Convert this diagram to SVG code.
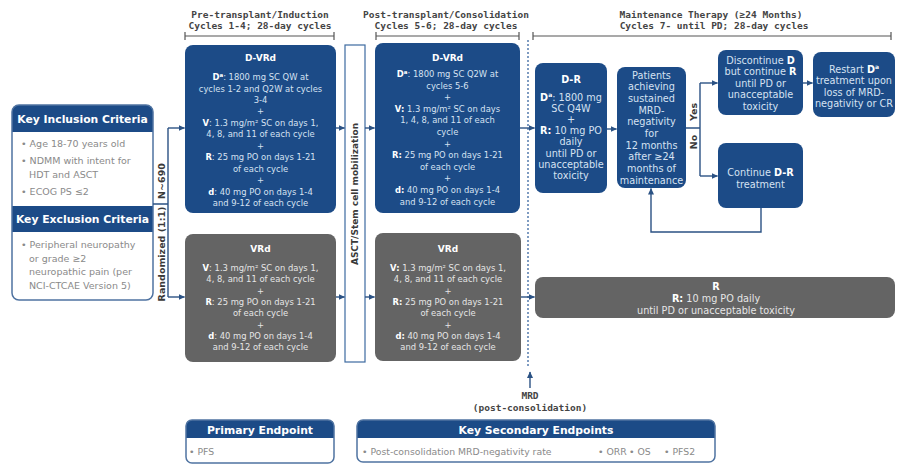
<svg xmlns="http://www.w3.org/2000/svg" width="899" height="465" viewBox="0 0 899 465">
<defs>
<marker id="ah" markerUnits="userSpaceOnUse" markerWidth="7" markerHeight="7" refX="6" refY="3.5" orient="auto">
<path d="M0,0.5 L6.5,3.5 L0,6.5 z" fill="#2b5284"/>
</marker>
<style>
.blue{fill:#1c4b87}
.gray{fill:#646464}
.ttl{font-family:"DejaVu Sans Mono",monospace;font-weight:bold;font-size:9.5px;fill:#444;text-anchor:middle}
.br{stroke:#555;stroke-width:1.2;fill:none}
.bt{font-family:"DejaVu Sans",sans-serif;font-size:8.4px;fill:#d6e2f2;text-anchor:middle}
.gt{font-family:"DejaVu Sans",sans-serif;font-size:8.4px;fill:#e6e6e6;text-anchor:middle}
.mt{font-family:"DejaVu Sans",sans-serif;font-size:9.7px;fill:#d6e2f2;text-anchor:middle}
.mg{font-family:"DejaVu Sans",sans-serif;font-size:9.7px;fill:#e6e6e6;text-anchor:middle}
.hd{font-family:"DejaVu Sans",sans-serif;font-size:9px;font-weight:bold;fill:#fff}
.b{font-weight:bold;fill:#fff}
.hdr{font-family:"DejaVu Sans",sans-serif;font-size:10.8px;font-weight:bold;fill:#fff;text-anchor:middle}
.bul{font-family:"DejaVu Sans",sans-serif;font-size:9.5px;fill:#8a8a8a}
.ebul{font-family:"DejaVu Sans",sans-serif;font-size:9.3px;fill:#8a8a8a}
.frame{fill:none;stroke:#4f73a1;stroke-width:1.5}
.lab{font-family:"DejaVu Sans",sans-serif;font-size:9.5px;font-weight:bold;fill:#3a3a3a;text-anchor:middle}
.con{stroke:#2b5284;stroke-width:1.4;fill:none}
</style>
</defs>

<g id="titles">
<text class="ttl" x="260" y="17.5">Pre-transplant/Induction</text>
<text class="ttl" x="260" y="29">Cycles 1-4; 28-day cycles</text>
<path class="br" d="M185,36 H334 M185,32 V40 M334,32 V40"/>
<text class="ttl" x="446" y="17.5">Post-transplant/Consolidation</text>
<text class="ttl" x="446" y="29">Cycles 5-6; 28-day cycles</text>
<path class="br" d="M376,36 H519 M376,32 V40 M519,32 V40"/>
<text class="ttl" x="711" y="17.5">Maintenance Therapy (≥24 Months)</text>
<text class="ttl" x="714" y="29">Cycles 7- until PD; 28-day cycles</text>
<path class="br" d="M533,36 H891 M533,32 V40 M891,32 V40"/>
</g>

<g id="criteria">
<rect x="12" y="105" width="141" height="195" rx="7" fill="#fff"/>
<path class="blue" d="M12,132 V112 Q12,105 19,105 H146 Q153,105 153,112 V132 Z"/>
<rect class="blue" x="12" y="206" width="141" height="26"/>
<text class="hdr" x="82.5" y="122.5">Key Inclusion Criteria</text>
<text class="hdr" x="82.5" y="223">Key Exclusion Criteria</text>
<text class="bul" x="21" y="146.5">• Age 18-70 years old</text>
<text class="bul" x="21" y="164">• NDMM with intent for</text>
<text class="bul" x="29" y="177.5">HDT and ASCT</text>
<text class="bul" x="21" y="195">• ECOG PS ≤2</text>
<text class="bul" x="21" y="247.5">• Peripheral neuropathy</text>
<text class="bul" x="29" y="261.5">or grade ≥2</text>
<text class="bul" x="29" y="275">neuropathic pain (per</text>
<text class="bul" x="29" y="288.5">NCI-CTCAE Version 5)</text>
<rect class="frame" x="12" y="105" width="141" height="195" rx="7"/>
</g>

<g id="randomization">
<text class="lab" transform="translate(164.5,181) rotate(-90)">N~690</text>
<text class="lab" transform="translate(164.5,254) rotate(-90)">Randomized (1:1)</text>
</g>

<g id="induction-dvrd">
<rect class="blue" x="185" y="45" width="151" height="168" rx="8"/>
<text class="hd" x="260.5" y="60.5" text-anchor="middle">D-VRd</text>
<text class="bt" x="260.5" y="80"><tspan class="b">D</tspan><tspan class="b" font-size="5.5" dy="-3">a</tspan><tspan dy="3">: 1800 mg SC QW at</tspan></text>
<text class="bt" x="260.5" y="91.5">cycles 1-2 and Q2W at cycles</text>
<text class="bt" x="260.5" y="103">3-4</text>
<text class="bt" x="260.5" y="114.4">+</text>
<text class="bt" x="260.5" y="125.8"><tspan class="b">V</tspan>: 1.3 mg/m² SC on days 1,</text>
<text class="bt" x="260.5" y="137.3">4, 8, and 11 of each cycle</text>
<text class="bt" x="260.5" y="148.7">+</text>
<text class="bt" x="260.5" y="160.2"><tspan class="b">R</tspan>: 25 mg PO on days 1-21</text>
<text class="bt" x="260.5" y="171.6">of each cycle</text>
<text class="bt" x="260.5" y="183">+</text>
<text class="bt" x="260.5" y="194.5"><tspan class="b">d</tspan>: 40 mg PO on days 1-4</text>
<text class="bt" x="260.5" y="206">and 9-12 of each cycle</text>
</g>

<g id="induction-vrd">
<rect class="gray" x="185" y="234" width="151" height="128" rx="8"/>
<text class="hd" x="260.5" y="252" text-anchor="middle">VRd</text>
<text class="gt" x="260.5" y="271"><tspan class="b">V</tspan>: 1.3 mg/m² SC on days 1,</text>
<text class="gt" x="260.5" y="282.3">4, 8, and 11 of each cycle</text>
<text class="gt" x="260.5" y="293.6">+</text>
<text class="gt" x="260.5" y="304.9"><tspan class="b">R</tspan>: 25 mg PO on days 1-21</text>
<text class="gt" x="260.5" y="316.2">of each cycle</text>
<text class="gt" x="260.5" y="327.5">+</text>
<text class="gt" x="260.5" y="338.8"><tspan class="b">d</tspan>: 40 mg PO on days 1-4</text>
<text class="gt" x="260.5" y="350.1">and 9-12 of each cycle</text>
</g>

<g id="asct">
<rect x="345" y="45" width="20" height="317" fill="#fff" stroke="#3d6aa0" stroke-width="1.2"/>
<text transform="translate(358.3,194) rotate(-90)" font-family="DejaVu Sans, sans-serif" font-size="9px" font-weight="bold" fill="#3a3a3a" text-anchor="middle">ASCT/Stem cell mobilization</text>
</g>

<g id="consolidation-dvrd">
<rect class="blue" x="375" y="43" width="145" height="170" rx="8"/>
<text class="hd" x="447.5" y="60.5" text-anchor="middle">D-VRd</text>
<text class="bt" x="447.5" y="77"><tspan class="b">D</tspan><tspan class="b" font-size="5.5" dy="-3">a</tspan><tspan dy="3">: 1800 mg SC Q2W at</tspan></text>
<text class="bt" x="447.5" y="88.6">cycles 5-6</text>
<text class="bt" x="447.5" y="100.2">+</text>
<text class="bt" x="447.5" y="111.8"><tspan class="b">V:</tspan> 1.3 mg/m² SC on days</text>
<text class="bt" x="447.5" y="123.4">1, 4, 8, and 11 of each</text>
<text class="bt" x="447.5" y="135">cycle</text>
<text class="bt" x="447.5" y="146.6">+</text>
<text class="bt" x="447.5" y="158.2"><tspan class="b">R:</tspan> 25 mg PO on days 1-21</text>
<text class="bt" x="447.5" y="169.8">of each cycle</text>
<text class="bt" x="447.5" y="181.4">+</text>
<text class="bt" x="447.5" y="193"><tspan class="b">d:</tspan> 40 mg PO on days 1-4</text>
<text class="bt" x="447.5" y="204.6">and 9-12 of each cycle</text>
</g>

<g id="consolidation-vrd">
<rect class="gray" x="375" y="233" width="146" height="128" rx="8"/>
<text class="hd" x="448" y="252" text-anchor="middle">VRd</text>
<text class="gt" x="448" y="271"><tspan class="b">V:</tspan> 1.3 mg/m² SC on days 1,</text>
<text class="gt" x="448" y="282.3">4, 8, and 11 of each cycle</text>
<text class="gt" x="448" y="293.6">+</text>
<text class="gt" x="448" y="304.9"><tspan class="b">R:</tspan> 25 mg PO on days 1-21</text>
<text class="gt" x="448" y="316.2">of each cycle</text>
<text class="gt" x="448" y="327.5">+</text>
<text class="gt" x="448" y="338.8"><tspan class="b">d:</tspan> 40 mg PO on days 1-4</text>
<text class="gt" x="448" y="350.1">and 9-12 of each cycle</text>
</g>

<g id="maint-dr">
<rect class="blue" x="535" y="63" width="72" height="130" rx="8"/>
<text class="mt" x="571" y="82.5"><tspan class="b">D-R</tspan></text>
<text class="mt" x="571" y="100.5"><tspan class="b">D</tspan><tspan class="b" font-size="6" dy="-3.5">a</tspan><tspan dy="3.5">: 1800 mg</tspan></text>
<text class="mt" x="571" y="111.8">SC Q4W</text>
<text class="mt" x="571" y="122.5">+</text>
<text class="mt" x="571" y="134"><tspan class="b">R:</tspan> 10 mg PO</text>
<text class="mt" x="571" y="145.3">daily</text>
<text class="mt" x="571" y="156.6">until PD or</text>
<text class="mt" x="571" y="167.9">unacceptable</text>
<text class="mt" x="571" y="179.2">toxicity</text>
</g>

<g id="maint-patients">
<rect class="blue" x="617" y="67" width="69" height="121" rx="8"/>
<text class="mt" x="651.5" y="78.5">Patients</text>
<text class="mt" x="651.5" y="90.2">achieving</text>
<text class="mt" x="651.5" y="101.9">sustained</text>
<text class="mt" x="651.5" y="113.6">MRD-</text>
<text class="mt" x="651.5" y="125.3">negativity</text>
<text class="mt" x="651.5" y="137">for</text>
<text class="mt" x="651.5" y="148.7">12 months</text>
<text class="mt" x="651.5" y="160.4">after ≥24</text>
<text class="mt" x="651.5" y="172.1">months of</text>
<text class="mt" x="651.5" y="183.8">maintenance</text>
</g>

<g id="maint-discontinue">
<rect class="blue" x="718" y="50" width="85" height="65" rx="8"/>
<text class="mt" x="760.5" y="63.5">Discontinue <tspan class="b">D</tspan></text>
<text class="mt" x="760.5" y="75">but continue <tspan class="b">R</tspan></text>
<text class="mt" x="760.5" y="86.5">until PD or</text>
<text class="mt" x="760.5" y="98">unacceptable</text>
<text class="mt" x="760.5" y="109.5">toxicity</text>
</g>

<g id="maint-restart">
<rect class="blue" x="813" y="52" width="82" height="65" rx="8"/>
<text class="mt" x="854" y="72.5">Restart <tspan class="b">D</tspan><tspan class="b" font-size="6" dy="-3.5">a</tspan></text>
<text class="mt" x="854" y="84">treatment upon</text>
<text class="mt" x="854" y="95.5">loss of MRD-</text>
<text class="mt" x="854" y="107">negativity or CR</text>
</g>

<g id="maint-continue">
<rect class="blue" x="718" y="143" width="85" height="65" rx="8"/>
<text class="mt" x="760.5" y="176">Continue <tspan class="b">D-R</tspan></text>
<text class="mt" x="760.5" y="187.5">treatment</text>
</g>

<g id="maint-r">
<rect class="gray" x="535" y="277" width="360" height="41" rx="8"/>
<text class="mg" x="716" y="289.5"><tspan class="b">R</tspan></text>
<text class="mg" x="716" y="301.5"><tspan class="b">R:</tspan> 10 mg PO daily</text>
<text class="mg" x="716" y="313.5">until PD or unacceptable toxicity</text>
</g>

<g id="mrd-label">
<text class="ttl" x="530" y="399">MRD</text>
<text class="ttl" x="530" y="411">(post-consolidation)</text>
</g>

<g id="primary-endpoint">
<rect x="186" y="420" width="148" height="43" rx="6" fill="#fff"/>
<path class="blue" d="M186,438 V426 Q186,420 192,420 H328 Q334,420 334,426 V438 Z"/>
<text class="hdr" x="260" y="433.5">Primary Endpoint</text>
<text class="ebul" x="189" y="454.5">• PFS</text>
<rect class="frame" x="186" y="420" width="148" height="43" rx="6"/>
</g>

<g id="secondary-endpoints">
<rect x="357" y="420" width="358" height="42" rx="6" fill="#fff"/>
<path class="blue" d="M357,438 V426 Q357,420 363,420 H709 Q715,420 715,426 V438 Z"/>
<text class="hdr" x="536" y="433.5">Key Secondary Endpoints</text>
<text class="ebul" x="362" y="454.5">• Post-consolidation MRD-negativity rate</text>
<text class="ebul" x="598" y="454.5">• ORR</text>
<text class="ebul" x="629" y="454.5">• OS</text>
<text class="ebul" x="664" y="454.5">• PFS2</text>
<rect class="frame" x="357" y="420" width="358" height="42" rx="6"/>
</g>

<g id="connectors">
<line x1="528" y1="40" x2="528" y2="366" stroke="#7f9cc2" stroke-width="2" stroke-dasharray="2 2"/>
<path class="con" d="M168,128 V297 M153,204 H168"/>
<path class="con" d="M168,128 H184.5" marker-end="url(#ah)"/>
<path class="con" d="M168,297 H184.5" marker-end="url(#ah)"/>
<path class="con" d="M336,128 H344.5" marker-end="url(#ah)"/>
<path class="con" d="M336,297 H344.5" marker-end="url(#ah)"/>
<path class="con" d="M365,128 H374.5" marker-end="url(#ah)"/>
<path class="con" d="M365,297 H374.5" marker-end="url(#ah)"/>
<path class="con" d="M520,128 H534.5" marker-end="url(#ah)"/>
<path class="con" d="M521,297 H534.5" marker-end="url(#ah)"/>
<path class="con" d="M607,129 H616.5" marker-end="url(#ah)"/>
<path class="con" d="M686,128 H700 M700,83 V176"/>
<path class="con" d="M700,83 H717.5" marker-end="url(#ah)"/>
<path class="con" d="M700,176 H717.5" marker-end="url(#ah)"/>
<path class="con" d="M803,83 H812.5" marker-end="url(#ah)"/>
<path class="con" d="M761,208 V232 H651 V188.5" marker-end="url(#ah)"/>
<path class="con" d="M530,388 V372" marker-end="url(#ah)"/>
<text class="lab" transform="translate(696.5,112) rotate(-90)">Yes</text>
<text class="lab" transform="translate(696.5,142) rotate(-90)">No</text>
</g>
</svg>
